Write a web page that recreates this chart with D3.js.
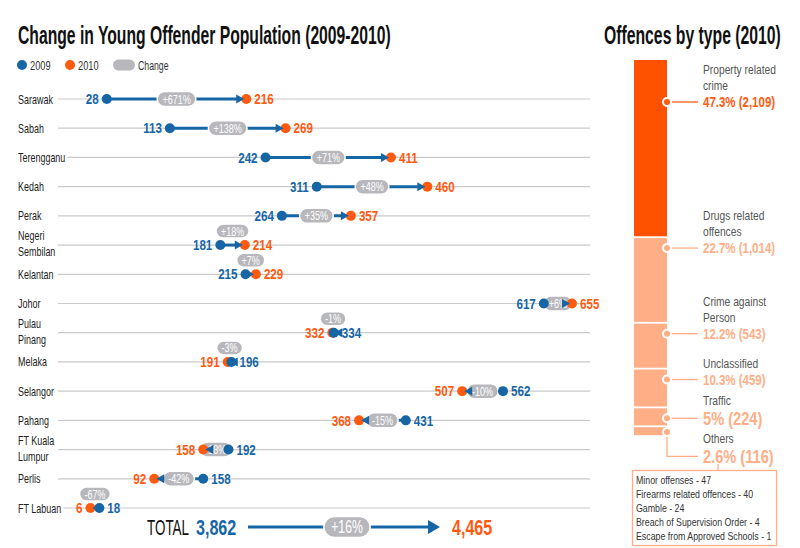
<!DOCTYPE html>
<html><head><meta charset="utf-8">
<script src="https://cdn.jsdelivr.net/npm/d3@7"></script>
<style>
html,body{margin:0;padding:0;background:#fff;}
svg{display:block;}
</style></head>
<body>
<svg id="c" width="800" height="548"></svg>
<script>
// ---------------- DATA ----------------
const regions = ["Sarawak","Sabah","Terengganu","Kedah","Perak","Negeri Sembilan","Kelantan","Johor","Pulau Pinang","Melaka","Selangor","Pahang","FT Kuala Lumpur","Perlis","FT Labuan"];
const regionLabelLines = [["Sarawak"],["Sabah"],["Terengganu"],["Kedah"],["Perak"],["Negeri","Sembilan"],["Kelantan"],["Johor"],["Pulau","Pinang"],["Melaka"],["Selangor"],["Pahang"],["FT Kuala","Lumpur"],["Perlis"],["FT Labuan"]];
const values2009 = [28,113,242,311,264,181,215,617,334,196,562,431,192,158,18];
const values2010 = [216,269,411,460,357,214,229,655,332,191,507,368,158,92,6];
const changeLabels = ["+671%","+138%","+71%","+48%","+35%","+18%","+7%","+6%","-1%","-3%","-10%","-15%","-18%","-42%","-67%"];
const changeAboveRegions = ["Negeri Sembilan","Kelantan","Pulau Pinang","Melaka","FT Labuan"];
const total2009 = 3862, total2010 = 4465, totalChange = "+16%";

const offenceNames = [["Property related","crime"],["Drugs related","offences"],["Crime against","Person"],["Unclassified"],["Traffic"],["Others"]];
const offencePct = ["47.3%","22.7%","12.2%","10.3%","5%","2.6%"];
const offenceCounts = [2109,1014,543,459,224,116];
const othersDetail = ["Minor offenses - 47","Firearms related offences - 40","Gamble - 24","Breach of Supervision Order - 4","Escape from Approved Schools - 1"];

// ---------------- STYLE ----------------
const BLUE = "#1666a6", ORANGE = "#ff5a10", PILL = "#b8b8bc", GRID = "#cacace";
const DARK_OR = "#ff5200", LIGHT_OR = "#ffae86", TXT = "#222", GRAY_TXT = "#555";
const FONT = "'Liberation Sans',Arial,Helvetica,sans-serif";
const fmt = d3.format(",");

const svg = d3.select("#c");

function T(parent, x, y, s, o = {}) {
  const t = parent.append("text")
    .attr("font-family", FONT)
    .attr("font-size", o.size ?? 12)
    .attr("font-weight", o.weight ?? "normal")
    .attr("fill", o.fill ?? TXT)
    .attr("text-anchor", o.anchor ?? "start")
    .text(s);
  let sx = o.sx ?? 0.72;
  if (o.width) sx = o.width / t.node().getComputedTextLength();
  t.attr("transform", `translate(${x},${y}) scale(${sx},1)`);
  return t;
}
function pill(parent, cx, cy, label, size, sx, h) {
  const g = parent.append("g");
  const r = g.append("rect");
  const t = T(g, cx, cy + size * 0.36, label, {size, sx, fill: "#fff", anchor: "middle"});
  const w = t.node().getComputedTextLength() * sx + h * 0.7;
  r.attr("x", cx - w / 2).attr("y", cy - h / 2).attr("width", w).attr("height", h)
   .attr("rx", h / 2).attr("fill", PILL).attr("stroke", "#fff").attr("stroke-width", 1.5);
  return g;
}
function arrowHead(parent, tipX, y, dir, len, half) {
  parent.append("path")
    .attr("d", `M${tipX},${y} L${tipX - dir * len},${y - half} L${tipX - dir * len},${y + half} Z`)
    .attr("fill", BLUE);
}

// ---------------- TITLES ----------------
T(svg, 18, 44, "Change in Young Offender Population (2009-2010)", {size: 25, weight: "bold", width: 373, fill: "#111"});
T(svg, 604, 44, "Offences by type (2010)", {size: 25, weight: "bold", width: 177, fill: "#111"});

// legend
const lg = svg.append("g");
lg.append("circle").attr("cx", 22).attr("cy", 65).attr("r", 5).attr("fill", BLUE);
T(lg, 30, 69.5, "2009", {size: 12.5, sx: 0.74, fill: "#333"});
lg.append("circle").attr("cx", 70).attr("cy", 65).attr("r", 5).attr("fill", ORANGE);
T(lg, 78, 69.5, "2010", {size: 12.5, sx: 0.74, fill: "#333"});
lg.append("rect").attr("x", 113).attr("y", 59.5).attr("width", 22).attr("height", 11).attr("rx", 5.5).attr("fill", PILL);
T(lg, 138, 69.5, "Change", {size: 12.5, sx: 0.7, fill: "#333"});

// ---------------- DUMBBELL CHART ----------------
const x = d3.scaleLinear().domain([0, 655]).range([86, 572]);
const y = d3.scalePoint().domain(regions).range([99, 508]);
const LINE_X0 = 58, LINE_X1 = 590;
const LBL_SX = 0.69;

const rows = regions.map((r, i) => ({r, lines: regionLabelLines[i], a: values2009[i], b: values2010[i], ch: changeLabels[i]}));

const gGrid = svg.append("g"), gLabels = svg.append("g"), gMarks = svg.append("g"), gPills = svg.append("g"), gDots = svg.append("g"), gVals = svg.append("g");

rows.forEach(d => {
  const yy = y(d.r);
  let maxW = 0;
  if (d.lines.length === 1) {
    const t = T(gLabels, 18, yy + 4.5, d.lines[0], {size: 13, sx: LBL_SX});
    maxW = t.node().getComputedTextLength() * LBL_SX;
  } else {
    d.lines.forEach((ln, k) => T(gLabels, 18, yy - 5 + k * 16, ln, {size: 13, sx: LBL_SX}));
  }
  const x0 = Math.max(LINE_X0, 18 + maxW + 2);
  gGrid.append("line").attr("x1", x0).attr("x2", LINE_X1).attr("y1", yy).attr("y2", yy)
    .attr("stroke", GRID).attr("stroke-width", 1.2);

  const xa = x(d.a), xb = x(d.b);
  const dir = d.b >= d.a ? 1 : -1;
  const tip = xb - dir * 2;
  const alen = 8;
  gMarks.append("line").attr("x1", xa).attr("x2", tip - dir * alen + dir * 0.5).attr("y1", yy).attr("y2", yy)
    .attr("stroke", BLUE).attr("stroke-width", 3);
  const mid = (xa + xb) / 2;
  if (changeAboveRegions.includes(d.r)) pill(gPills, mid, yy - 14, d.ch, 12.5, 0.72, 14);
  else pill(gPills, mid, yy, d.ch, 12.5, 0.72, 15);
  gDots.append("circle").attr("cx", xb).attr("cy", yy).attr("r", 5).attr("fill", ORANGE);
  arrowHead(gDots, tip, yy, dir, alen, 4.5);
  gDots.append("circle").attr("cx", xa).attr("cy", yy).attr("r", 5).attr("fill", BLUE);
  const vo = {size: 14.5, weight: "bold", sx: 0.8};
  T(gVals, xa - dir * 8, yy + 5.2, fmt(d.a), {...vo, fill: BLUE, anchor: dir > 0 ? "end" : "start"});
  T(gVals, xb + dir * 8, yy + 5.2, fmt(d.b), {...vo, fill: ORANGE, anchor: dir > 0 ? "start" : "end"});
});

// total row
const ty = 527;
const gt = svg.append("g");
T(gt, 147, ty + 8, "TOTAL", {size: 22, sx: 0.61, fill: "#111"});
T(gt, 196, ty + 8, fmt(total2009), {size: 22, weight: "bold", sx: 0.73, fill: BLUE});
const tx0 = 248, tx1 = 440;
gt.append("line").attr("x1", tx0).attr("x2", tx1 - 11).attr("y1", ty).attr("y2", ty).attr("stroke", BLUE).attr("stroke-width", 3);
arrowHead(gt, tx1, ty, 1, 12, 7);
pill(gt, (tx0 + tx1) / 2 + 3, ty, totalChange, 18, 0.68, 21);
T(gt, 452, ty + 8, fmt(total2010), {size: 22, weight: "bold", sx: 0.73, fill: ORANGE});

// ---------------- OFFENCES STACKED BAR ----------------
const total = d3.sum(offenceCounts);
const yb = d3.scaleLinear().domain([0, total]).range([60, 437]);
const BX = 634, BW = 33;
const gb = svg.append("g");
let cum = 0;
const segs = offenceCounts.map((c, i) => { const s = {i, y0: yb(cum), y1: yb(cum + c)}; cum += c; return s; });
segs.forEach(s => {
  gb.append("rect").attr("x", BX).attr("y", s.y0).attr("width", BW).attr("height", Math.max(0, s.y1 - s.y0 - 1.8))
    .attr("fill", s.i === 0 ? DARK_OR : LIGHT_OR);
});

// callouts
const gc = svg.append("g");
const LX = 703, NAME_LH = 16;
let prevBottom = 64;
segs.forEach(s => {
  const i = s.i;
  const col = i === 0 ? ORANGE : LIGHT_OR;
  const big = offenceCounts[i] / total < 0.06;
  const vsize = big ? 19 : 14;
  const nLines = offenceNames[i].length;
  const above = nLines * NAME_LH + (big ? 14 : 10);
  const ty2 = Math.max(s.y0 + 10, prevBottom + above - 4);
  const dotY = Math.min(Math.max(ty2, s.y0 + 3), s.y1 - 5);
  const cx = BX + BW;
  if (Math.abs(dotY - ty2) > 1) {
    gc.append("path").attr("d", `M${cx},${dotY} V${ty2} H${LX - 5}`).attr("fill", "none").attr("stroke", col).attr("stroke-width", 1.3);
  } else {
    gc.append("line").attr("x1", cx + 5).attr("x2", LX - 5).attr("y1", dotY).attr("y2", dotY).attr("stroke", col).attr("stroke-width", 1.3);
  }
  gc.append("circle").attr("cx", cx).attr("cy", dotY).attr("r", 4).attr("fill", col).attr("stroke", "#fff").attr("stroke-width", 2);
  const vb = ty2 + vsize * 0.36;
  offenceNames[i].forEach((ln, k) => {
    T(gc, LX, vb - (big ? 20 : 17) - (nLines - 1 - k) * NAME_LH, ln, {size: 13.5, sx: 0.76, fill: GRAY_TXT});
  });
  T(gc, LX, vb, `${offencePct[i]} (${fmt(offenceCounts[i])})`, {size: vsize, weight: "bold", sx: big ? 0.77 : 0.82, fill: col});
  prevBottom = ty2 + 12;
});

// others detail box
const gbx = svg.append("g");
gbx.append("line").attr("x1", 718).attr("x2", 718).attr("y1", 464).attr("y2", 470).attr("stroke", LIGHT_OR).attr("stroke-width", 1.3);
gbx.append("rect").attr("x", 632.5).attr("y", 470.5).attr("width", 144).attr("height", 75).attr("fill", "#fff").attr("stroke", LIGHT_OR).attr("stroke-width", 1.3);
othersDetail.forEach((s, k) => T(gbx, 636, 484 + k * 14, s, {size: 11, sx: 0.8, fill: "#333"}));
</script>
</body></html>
